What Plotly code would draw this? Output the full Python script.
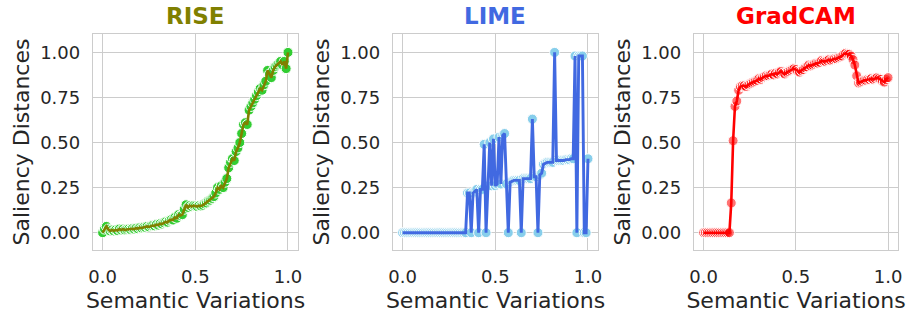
import plotly.graph_objects as go

x_vals = [round(i * 0.01, 2) for i in range(101)]

rise_vals = [0.00, 0.02, 0.035, 0.02, 0.01, 0.015, 0.01, 0.015, 0.012, 0.02,
             0.015, 0.02, 0.015, 0.018, 0.02, 0.018, 0.022, 0.02, 0.025, 0.022,
             0.028, 0.026, 0.03, 0.03, 0.035, 0.032, 0.038, 0.04, 0.038, 0.045,
             0.042, 0.05, 0.048, 0.055, 0.06, 0.058, 0.068, 0.072, 0.07, 0.085,
             0.08, 0.10, 0.095, 0.10, 0.13, 0.155, 0.14, 0.15, 0.145, 0.15,
             0.148, 0.145, 0.15, 0.148, 0.152, 0.16, 0.165, 0.175, 0.18, 0.19,
             0.20, 0.22, 0.25, 0.24, 0.26, 0.25, 0.28, 0.30, 0.36, 0.39,
             0.41, 0.40, 0.45, 0.47, 0.50, 0.55, 0.60, 0.61, 0.60, 0.68,
             0.70, 0.72, 0.74, 0.76, 0.78, 0.80, 0.79, 0.82, 0.84, 0.90,
             0.88, 0.86, 0.90, 0.92, 0.93, 0.94, 0.95, 0.93, 0.95, 0.91,
             1.00]

lime_vals = [0.0] * 35 + [
             0.22, 0.22, 0.0, 0.22, 0.23, 0.24, 0.0, 0.24, 0.24, 0.49,
             0.0, 0.26, 0.50, 0.26, 0.52, 0.26, 0.27, 0.53, 0.27, 0.54,
             0.55, 0.27, 0.0, 0.28, 0.285, 0.29, 0.29, 0.29, 0.29, 0.0,
             0.30, 0.30, 0.30, 0.30, 0.30, 0.63, 0.31, 0.31, 0.0, 0.32,
             0.33, 0.38, 0.385, 0.39, 0.39, 0.39, 0.39, 1.00, 0.40, 0.40,
             0.40, 0.40, 0.40, 0.405, 0.405, 0.405, 0.41, 0.41, 0.98, 0.0,
             0.98, 0.98, 0.98, 0.0, 0.0, 0.41]

gradcam_vals = [0.0] * 15 + [
                0.165, 0.51, 0.70, 0.73, 0.79, 0.81, 0.815, 0.815, 0.81, 0.82,
                0.825, 0.83, 0.835, 0.84, 0.845, 0.855, 0.85, 0.86, 0.865, 0.87,
                0.87, 0.875, 0.88, 0.875, 0.885, 0.88, 0.89, 0.895, 0.885, 0.88,
                0.89, 0.895, 0.90, 0.905, 0.91, 0.905, 0.895, 0.89, 0.90, 0.905,
                0.915, 0.92, 0.93, 0.925, 0.93, 0.935, 0.94, 0.94, 0.945, 0.955,
                0.95, 0.95, 0.955, 0.96, 0.955, 0.96, 0.965, 0.965, 0.97, 0.975,
                0.98, 0.99, 0.995, 0.99, 0.99, 0.98, 0.96, 0.93, 0.87, 0.83,
                0.835, 0.84, 0.845, 0.845, 0.85, 0.85, 0.855, 0.85, 0.855, 0.86,
                0.855, 0.85, 0.84, 0.835, 0.85, 0.86]

titles = ["RISE", "LIME", "GradCAM"]
title_colors = ["#808000", "#4169E1", "#FF0000"]
marker_colors = ["rgba(50,205,50,1)", "rgba(135,206,235,1)", "rgba(255,0,0,0.55)"]
line_colors = ["#808000", "#4169E1", "#FF0000"]
line_widths = [2.6, 2.9, 2.6]
series = [rise_vals, lime_vals, gradcam_vals]
x_tick_vals = [0.0, 0.5, 1.0]
x_tick_text = ["0.0", "0.5", "1.0"]
y_tick_vals = [0.0, 0.25, 0.5, 0.75, 1.0]
y_tick_text = ["0.00", "0.25", "0.50", "0.75", "1.00"]
x_title = "Semantic Variations"
y_title = "Saliency Distances"

W, H = 910, 316
panels_px = [(93, 298), (393, 598), (694, 898)]
top_px, bot_px = 34, 250

FONT = "DejaVu Sans"
TXT = "#262626"
GRID = "#cccccc"

fig = go.Figure()
annotations = []
for i, (vals, px) in enumerate(zip(series, panels_px)):
    n = "" if i == 0 else str(i + 1)
    xa, ya = "x" + n, "y" + n
    fig.add_trace(go.Scatter(x=x_vals, y=vals, mode="markers", xaxis=xa, yaxis=ya,
                             marker=dict(size=10, color=marker_colors[i],
                                         line=dict(color="white", width=1)),
                             showlegend=False, hoverinfo="skip"))
    fig.add_trace(go.Scatter(x=x_vals, y=vals, mode="lines", xaxis=xa, yaxis=ya,
                             line=dict(color=line_colors[i], width=line_widths[i]),
                             showlegend=False))
    dom = [px[0] / W, px[1] / W]
    fig.layout["xaxis" + n] = dict(
        domain=dom, range=[-0.052, 1.054], anchor=ya, automargin=False,
        tickvals=x_tick_vals, ticktext=x_tick_text,
        showgrid=True, gridcolor=GRID, gridwidth=1.3,
        showline=True, linecolor=GRID, linewidth=1.3, mirror=True,
        zeroline=False, ticks="", ticklabelstandoff=10,
        tickfont=dict(family=FONT, size=18, color=TXT),
        title=dict(text=x_title, font=dict(family=FONT, size=22, color=TXT), standoff=6),
    )
    fig.layout["yaxis" + n] = dict(
        domain=[(H - bot_px) / H, (H - top_px) / H], range=[-0.096, 1.102], anchor=xa,
        automargin=False,
        tickvals=y_tick_vals, ticktext=y_tick_text,
        showgrid=True, gridcolor=GRID, gridwidth=1.3,
        showline=True, linecolor=GRID, linewidth=1.3, mirror=True,
        zeroline=False, ticks="", ticklabelstandoff=8,
        tickfont=dict(family=FONT, size=18, color=TXT),
        title=dict(text=y_title, font=dict(family=FONT, size=22, color=TXT), standoff=4),
    )
    annotations.append(dict(
        text="<b>" + titles[i] + "</b>", x=(px[0] + px[1]) / 2 / W, y=(H - 31) / H,
        xref="paper", yref="paper", xanchor="center", yanchor="bottom", showarrow=False,
        font=dict(family=FONT, size=23, color=title_colors[i]),
    ))

fig.update_layout(
    width=W, height=H, margin=dict(l=0, r=0, t=0, b=0, autoexpand=False),
    paper_bgcolor="white", plot_bgcolor="white",
    annotations=annotations,
)

fig.write_html("out.html", config={"displayModeBar": False},
               post_script="document.body.style.margin='0px';")
